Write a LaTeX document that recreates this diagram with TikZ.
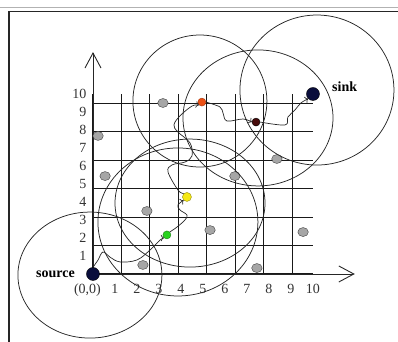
\documentclass[tikz,border=0pt]{standalone}
\usepackage{fontspec}
\setmainfont{Liberation Serif}
\usetikzlibrary{arrows.meta,shapes.geometric}
\definecolor{navy}{RGB}{10,14,60}
\definecolor{hoporange}{RGB}{235,80,20}
\definecolor{hopbrown}{RGB}{70,10,10}
\definecolor{hopyellow}{RGB}{245,232,20}
\definecolor{hopgreen}{RGB}{40,210,30}

\begin{document}
\begin{tikzpicture}[x=22pt,y=18pt]
  \tikzstyle{N}=[draw,circle,inner sep=0pt,minimum size=8pt]
  \tikzstyle{obst}=[draw=black!75,fill=black!35,ellipse,inner sep=0pt,minimum width=10.5pt,minimum height=9pt]
  \tikzstyle{reach}=[black!85,line width=0.75pt]
  \tikzstyle{hop}=[->,black!85,line width=0.7pt]
  \tikzstyle{axis}=[-{Straight Barb[length=15pt,width=16pt]},line width=0.9pt,black!85]
  \tikzstyle{num}=[font=\fontsize{14}{16}\selectfont,text=black!80,inner sep=1pt]
  \useasboundingbox (-4.227,-3.778) rectangle (13.864,15.222);

  % frame
  \draw[black!30,line width=1.5pt] (-4.227,14.8) -- (13.864,14.8);
  \draw[black!85,line width=1.5pt] (-3.82,-3.778) -- (-3.82,14.58) -- (13.864,14.58);

  % grid and axes
  \draw[black!90,line width=1.1pt] (0,0) grid (10,10);
  \draw[axis] (0,0) -- (11.9,0);
  \draw[axis] (0,0) -- (0,12.33);
  \foreach \k in {1,...,10} {
    \node[num] (x\k) at (\k,-0.85) {\k};
    \node[num,anchor=east] (y\k) at (-0.25,\k) {\k};
  }
  \node[num] (x0) at (-0.25,-0.89) {(0,0)};

  % obstacles
  \foreach \x/\y [count=\i] in {3.18/9.5, 0.23/7.67, 0.55/5.44, 2.45/3.5, 6.45/5.44,
                                5.32/2.44, 9.55/2.33, 2.27/0.5, 7.45/0.33, 8.36/6.39}
    \node[obst] (ob\i) at (\x,\y) {};

  % transmission ranges
  \draw[reach] (-0.14,-0.06) circle [x radius=72pt, y radius=63pt];
  \draw[reach] (3.86,2.89) circle [x radius=80pt, y radius=74pt];
  \draw[reach] (4.41,3.94) circle [x radius=75pt, y radius=64pt];
  \draw[reach] (4.86,9.61) circle [x radius=67pt, y radius=66pt];
  \draw[reach] (7.5,8.67) circle [x radius=75pt, y radius=68pt];
  \draw[reach] (10.18,10.22) circle [x radius=77pt, y radius=75pt];

  % hops
  \node[N,fill=navy,minimum size=13pt] (src) at (0,0) [label={[label distance=8pt,font=\fontsize{14}{16}\selectfont\bfseries]left:source}] {};
  \node[N,fill=navy,minimum size=13pt] (snk) at (10,10) [label={[label distance=9pt,yshift=7pt,font=\fontsize{14}{16}\selectfont\bfseries]right:sink}] {};
  \node[N,draw=hopgreen!60!black,fill=hopgreen] (grn) at (3.36,2.17) {};
  \node[N,draw=hopyellow!60!black,fill=hopyellow,minimum size=9pt] (ylw) at (4.27,4.28) {};
  \node[N,draw=hoporange!70!black,fill=hoporange] (org) at (4.95,9.55) {};
  \node[N,draw=black,fill=hopbrown] (brn) at (7.41,8.44) {};

  \draw[hop] plot [smooth, tension=0.6] coordinates {(src.north) (0.23,0.78) (0.45,1.22) (0.77,0.94) (1.23,0.67) (2.0,0.78) (2.59,1.33) (3.05,1.89) (grn.south west)};
  \draw[hop] plot [smooth, tension=0.6] coordinates {(grn.north east) (3.82,2.61) (4.18,3.0) (4.27,3.28) (3.95,3.56) (3.86,3.83) (ylw.south west)};
  \draw[hop] plot [smooth, tension=0.6] coordinates {(ylw.north west) (3.86,4.67) (3.41,5.67) (3.59,6.06) (4.18,6.22) (4.5,6.56) (4.41,7.28) (3.86,7.89) (3.68,8.28) (3.95,8.78) (4.5,9.33) (org.south west)};
  \draw[hop] plot [smooth, tension=0.6] coordinates {(org.east) (5.77,9.28) (5.91,8.94) (6.09,8.5) (6.82,8.61) (brn.west)};
  \draw[hop] plot [smooth, tension=0.6] coordinates {(brn.east) (8.73,8.28) (8.86,8.72) (9.18,9.11) (9.45,9.5) (snk.south west)};
\end{tikzpicture}
\end{document}
